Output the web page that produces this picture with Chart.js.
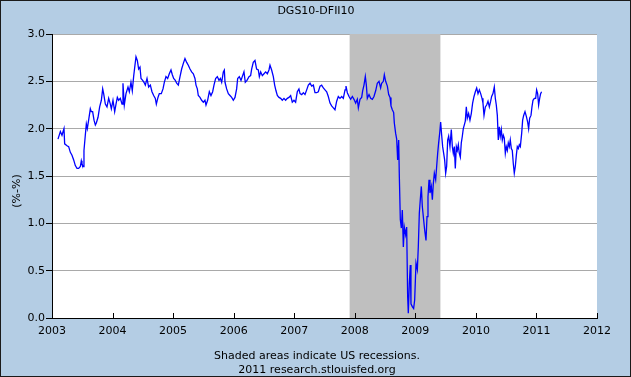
<!DOCTYPE html>
<html>
<head>
<meta charset="utf-8">
<script src="https://cdn.jsdelivr.net/npm/chart.js@4.4.1/dist/chart.umd.min.js"></script>
<style>
  html, body { margin: 0; padding: 0; background: #b4cde4; }
  canvas { display: block; }
</style>
</head>
<body>
<canvas id="spreadChart" width="631" height="377"></canvas>
<script>
// DGS10 - DFII10 (years since 2003, percent)
const startYear = 2003
const yearOffsets = [
  0.099, 0.138, 0.165, 0.198, 0.209, 0.248, 0.275, 0.303, 0.330, 0.358,
  0.385, 0.413, 0.440, 0.468, 0.484, 0.495, 0.512, 0.528, 0.550, 0.567,
  0.583, 0.605, 0.633, 0.649, 0.671, 0.694, 0.716, 0.732, 0.760, 0.787,
  0.815, 0.837, 0.853, 0.881, 0.908, 0.936, 0.963, 0.980, 1.007, 1.035,
  1.057, 1.079, 1.101, 1.128, 1.156, 1.172, 1.194, 1.222, 1.255, 1.277,
  1.304, 1.326, 1.348, 1.370, 1.387, 1.409, 1.431, 1.453, 1.470, 1.497,
  1.519, 1.541, 1.569, 1.596, 1.624, 1.651, 1.679, 1.706, 1.723, 1.750,
  1.772, 1.805, 1.833, 1.855, 1.882, 1.910, 1.937, 1.965, 1.987, 2.009,
  2.036, 2.059, 2.086, 2.114, 2.141, 2.169, 2.196, 2.224, 2.251, 2.279,
  2.306, 2.334, 2.361, 2.378, 2.400, 2.416, 2.444, 2.471, 2.499, 2.526,
  2.543, 2.570, 2.598, 2.625, 2.653, 2.675, 2.702, 2.730, 2.758, 2.780,
  2.802, 2.829, 2.846, 2.857, 2.884, 2.912, 2.939, 2.967, 2.994, 3.022,
  3.049, 3.066, 3.093, 3.121, 3.148, 3.170, 3.192, 3.220, 3.253, 3.280,
  3.297, 3.324, 3.352, 3.379, 3.407, 3.424, 3.446, 3.473, 3.501, 3.528,
  3.556, 3.583, 3.600, 3.627, 3.655, 3.677, 3.699, 3.721, 3.748, 3.776,
  3.803, 3.831, 3.858, 3.886, 3.913, 3.941, 3.968, 3.996, 4.023, 4.051,
  4.078, 4.096, 4.123, 4.151, 4.178, 4.206, 4.233, 4.261, 4.288, 4.316,
  4.343, 4.371, 4.398, 4.426, 4.453, 4.481, 4.508, 4.536, 4.563, 4.591,
  4.618, 4.646, 4.673, 4.701, 4.728, 4.756, 4.784, 4.811, 4.839, 4.855,
  4.877, 4.905, 4.932, 4.960, 4.987, 5.015, 5.042, 5.059, 5.086, 5.114,
  5.130, 5.152, 5.174, 5.191, 5.207, 5.235, 5.262, 5.290, 5.317, 5.345,
  5.372, 5.400, 5.427, 5.444, 5.472, 5.488, 5.510, 5.538, 5.560, 5.582,
  5.598, 5.620, 5.642, 5.653, 5.675, 5.692, 5.708, 5.725, 5.736, 5.752,
  5.769, 5.785, 5.802, 5.818, 5.840, 5.857, 5.873, 5.884, 5.901, 5.917,
  5.928, 5.950, 5.972, 5.989, 6.011, 6.033, 6.049, 6.066, 6.082, 6.099,
  6.115, 6.132, 6.154, 6.176, 6.193, 6.209, 6.226, 6.242, 6.264, 6.281,
  6.297, 6.314, 6.336, 6.352, 6.369, 6.385, 6.402, 6.418, 6.435, 6.451,
  6.468, 6.484, 6.501, 6.517, 6.534, 6.550, 6.572, 6.594, 6.611, 6.627,
  6.644, 6.660, 6.677, 6.693, 6.710, 6.726, 6.743, 6.759, 6.776, 6.792,
  6.809, 6.825, 6.842, 6.858, 6.880, 6.902, 6.924, 6.946, 6.969, 6.991,
  7.013, 7.035, 7.057, 7.079, 7.101, 7.117, 7.134, 7.156, 7.178, 7.200,
  7.222, 7.244, 7.260, 7.282, 7.304, 7.321, 7.337, 7.354, 7.370, 7.387,
  7.403, 7.420, 7.436, 7.453, 7.469, 7.486, 7.502, 7.519, 7.535, 7.552,
  7.568, 7.585, 7.601, 7.618, 7.634, 7.651, 7.668, 7.684, 7.701, 7.717,
  7.734, 7.756, 7.772, 7.789, 7.811, 7.833, 7.855, 7.871, 7.888, 7.910,
  7.926, 7.943, 7.965, 7.987, 8.003, 8.020, 8.036, 8.053, 8.069, 8.085
]
const spread = [
  1.89, 1.97, 1.93, 2.00, 1.84, 1.82, 1.81, 1.75, 1.72, 1.67,
  1.61, 1.58, 1.58, 1.60, 1.66, 1.63, 1.60, 1.77, 1.93, 2.05,
  2.00, 2.09, 2.21, 2.18, 2.18, 2.09, 2.04, 2.06, 2.12, 2.23,
  2.30, 2.42, 2.37, 2.26, 2.23, 2.32, 2.26, 2.21, 2.30, 2.18,
  2.26, 2.33, 2.30, 2.32, 2.26, 2.48, 2.25, 2.37, 2.44, 2.39,
  2.49, 2.40, 2.55, 2.67, 2.76, 2.72, 2.63, 2.65, 2.53, 2.51,
  2.49, 2.46, 2.53, 2.44, 2.46, 2.39, 2.35, 2.32, 2.26, 2.33,
  2.37, 2.37, 2.42, 2.49, 2.55, 2.53, 2.58, 2.62, 2.57, 2.53,
  2.51, 2.48, 2.46, 2.55, 2.63, 2.69, 2.74, 2.70, 2.67, 2.63,
  2.60, 2.58, 2.53, 2.46, 2.42, 2.35, 2.33, 2.30, 2.28, 2.30,
  2.25, 2.30, 2.39, 2.35, 2.39, 2.46, 2.53, 2.55, 2.51, 2.53,
  2.49, 2.60, 2.62, 2.49, 2.42, 2.37, 2.35, 2.33, 2.30, 2.33,
  2.42, 2.53, 2.55, 2.51, 2.56, 2.60, 2.49, 2.51, 2.55, 2.56,
  2.63, 2.70, 2.72, 2.63, 2.62, 2.55, 2.60, 2.56, 2.58, 2.60,
  2.58, 2.62, 2.67, 2.62, 2.55, 2.46, 2.40, 2.35, 2.33, 2.32,
  2.30, 2.32, 2.30, 2.32, 2.33, 2.35, 2.28, 2.30, 2.28, 2.39,
  2.42, 2.37, 2.36, 2.38, 2.36, 2.41, 2.46, 2.48, 2.45, 2.46,
  2.38, 2.38, 2.39, 2.45, 2.46, 2.43, 2.41, 2.39, 2.34, 2.27,
  2.24, 2.22, 2.20, 2.29, 2.34, 2.32, 2.34, 2.32, 2.41, 2.45,
  2.38, 2.34, 2.31, 2.34, 2.31, 2.27, 2.31, 2.22, 2.31, 2.33,
  2.40, 2.46, 2.55, 2.46, 2.32, 2.36, 2.32, 2.31, 2.34, 2.40,
  2.48, 2.50, 2.43, 2.48, 2.50, 2.57, 2.50, 2.45, 2.36, 2.33,
  2.24, 2.20, 2.17, 2.06, 1.95, 1.89, 1.67, 1.88, 1.49, 1.04,
  0.95, 1.14, 0.75, 0.96, 0.88, 0.96, 0.23, 0.05, 0.37, 0.56,
  0.15, 0.12, 0.10, 0.19, 0.58, 0.51, 0.75, 1.11, 1.25, 1.39,
  1.18, 1.07, 0.93, 0.82, 1.07, 1.28, 1.46, 1.32, 1.39, 1.25,
  1.42, 1.53, 1.46, 1.60, 1.74, 1.85, 1.95, 2.07, 1.93, 1.81,
  1.74, 1.67, 1.53, 1.60, 1.88, 1.92, 1.81, 1.99, 1.81, 1.74,
  1.81, 1.58, 1.81, 1.77, 1.83, 1.74, 1.70, 1.85, 1.92, 2.00,
  2.04, 2.08, 2.23, 2.11, 2.16, 2.09, 2.16, 2.27, 2.34, 2.39,
  2.43, 2.37, 2.41, 2.37, 2.32, 2.27, 2.14, 2.23, 2.25, 2.29,
  2.23, 2.29, 2.34, 2.37, 2.44, 2.32, 2.25, 2.14, 1.88, 2.02,
  1.92, 1.99, 1.88, 1.93, 1.90, 1.74, 1.81, 1.77, 1.85, 1.81,
  1.88, 1.79, 1.77, 1.63, 1.53, 1.60, 1.72, 1.81, 1.79, 1.83,
  1.81, 1.95, 2.09, 2.14, 2.18, 2.13, 2.07, 2.00, 2.11, 2.14,
  2.23, 2.30, 2.32, 2.32, 2.41, 2.37, 2.25, 2.32, 2.37, 2.39
]
const xTickYears = [2003, 2004, 2005, 2006, 2007, 2008, 2009, 2010, 2011, 2012]
const yTickValues = [0, 0.5, 1, 1.5, 2, 2.5, 3]
// recession Dec 2007 - Jun 2009
const recessionStart = 2007.915
const recessionEnd = 2009.414

const chartTitle = 'DGS10-DFII10'
const yAxisTitle = '(%-%)'
const footerLines = ['Shaded areas indicate US recessions.', '2011 research.stlouisfed.org']

const FONT = '11px "DejaVu Sans", Verdana, sans-serif'

const points = yearOffsets.map((t, i) => ({ x: startYear + t, y: spread[i] }))

// gray recession band, inward x ticks, titles and frame
const fredDecor = {
  id: 'fredDecor',
  beforeDraw(chart) {
    const { ctx, width, height } = chart
    ctx.save()
    ctx.fillStyle = '#b4cde4'
    ctx.fillRect(0, 0, width, height)
    const a = chart.chartArea
    ctx.fillStyle = '#ffffff'
    ctx.fillRect(a.left, a.top, a.right - a.left, a.bottom - a.top)
    ctx.restore()
  },
  beforeDatasetsDraw(chart) {
    const { ctx, chartArea: a, scales: { x } } = chart
    const x0 = x.getPixelForValue(recessionStart)
    const x1 = x.getPixelForValue(recessionEnd)
    ctx.save()
    ctx.fillStyle = '#bfbfbf'
    ctx.fillRect(x0, a.top, x1 - x0, a.bottom - a.top)
    ctx.restore()
  },
  afterDraw(chart) {
    const { ctx, width, height, chartArea: a, scales: { x } } = chart
    ctx.save()
    ctx.strokeStyle = '#000'
    ctx.lineWidth = 1
    ctx.beginPath()
    xTickYears.forEach(yr => {
      const px = Math.round(x.getPixelForValue(yr)) + 0.5
      ctx.moveTo(px, a.bottom)
      ctx.lineTo(px, a.bottom - 5)
    })
    ctx.stroke()

    ctx.fillStyle = '#000'
    ctx.font = FONT
    ctx.textAlign = 'center'
    ctx.textBaseline = 'middle'
    ctx.fillText(chartTitle, 316, 11)
    ctx.fillText(footerLines[0], 317, 356)
    ctx.fillText(footerLines[1], 317, 370)

    ctx.translate(17, 191)
    ctx.rotate(-Math.PI / 2)
    ctx.fillText(yAxisTitle, 0, 0)
    ctx.setTransform(1, 0, 0, 1, 0, 0)

    ctx.strokeStyle = '#1a1a1a'
    ctx.strokeRect(0.5, 0.5, width - 1, height - 1)
    ctx.restore()
  }
}

new Chart(document.getElementById('spreadChart').getContext('2d'), {
  type: 'line',
  data: {
    datasets: [
      {
        label: chartTitle,
        data: points,
        borderColor: '#0000ff',
        borderWidth: 1.3,
        pointRadius: 0,
        tension: 0,
        fill: false
      }
    ]
  },
  options: {
    responsive: false,
    animation: false,
    layout: { padding: { top: 34, right: 34, bottom: 35, left: 0 } },
    plugins: {
      legend: { display: false },
      tooltip: { enabled: false }
    },
    scales: {
      x: {
        type: 'linear',
        min: xTickYears[0],
        max: xTickYears[xTickYears.length - 1],
        afterBuildTicks: scale => { scale.ticks = xTickYears.map(v => ({ value: v })) },
        afterFit: scale => { scale.height = 24 },
        ticks: {
          callback: v => String(v),
          color: '#000',
          font: { family: '"DejaVu Sans", Verdana, sans-serif', size: 11 },
          padding: 7,
          maxRotation: 0,
          autoSkip: false
        },
        grid: { drawOnChartArea: false, drawTicks: false },
        border: { color: '#000', width: 1 }
      },
      y: {
        min: 0,
        max: 3,
        afterBuildTicks: scale => { scale.ticks = yTickValues.map(v => ({ value: v })) },
        afterFit: scale => { scale.width = 52 },
        ticks: {
          callback: v => v.toFixed(1),
          color: '#000',
          font: { family: '"DejaVu Sans", Verdana, sans-serif', size: 11 },
          padding: 1
        },
        grid: { color: '#a9a9a9', tickColor: '#000', tickLength: 6, lineWidth: 1 },
        border: { color: '#000', width: 1 }
      }
    }
  },
  plugins: [fredDecor]
})
</script>
</body>
</html>
